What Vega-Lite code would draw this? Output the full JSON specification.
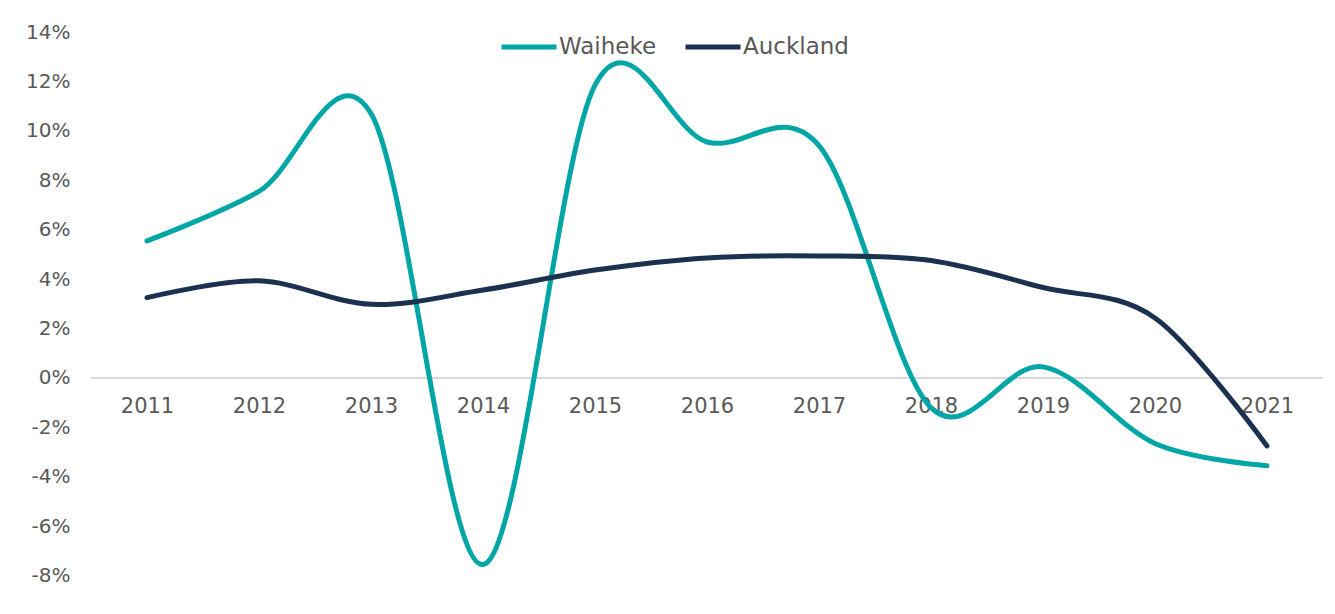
{
  "$schema": "https://vega.github.io/schema/vega-lite/v6.json",
  "width": 1232,
  "height": 582,
  "autosize": "none",
  "padding": {"left": 91, "top": 32, "right": 12, "bottom": 0},
  "background": "white",
  "config": {
    "view": {"stroke": null},
    "font": "DejaVu Sans"
  },
  "data": {
    "values": [
      {"year": "2011", "series": "Waiheke", "value": 0.0555},
      {"year": "2012", "series": "Waiheke", "value": 0.0755},
      {"year": "2013", "series": "Waiheke", "value": 0.107},
      {"year": "2014", "series": "Waiheke", "value": -0.0755},
      {"year": "2015", "series": "Waiheke", "value": 0.1185},
      {"year": "2016", "series": "Waiheke", "value": 0.0955},
      {"year": "2017", "series": "Waiheke", "value": 0.094},
      {"year": "2018", "series": "Waiheke", "value": -0.012},
      {"year": "2019", "series": "Waiheke", "value": 0.0045},
      {"year": "2020", "series": "Waiheke", "value": -0.0265},
      {"year": "2021", "series": "Waiheke", "value": -0.0355},
      {"year": "2011", "series": "Auckland", "value": 0.0325},
      {"year": "2012", "series": "Auckland", "value": 0.0393},
      {"year": "2013", "series": "Auckland", "value": 0.0298},
      {"year": "2014", "series": "Auckland", "value": 0.0356},
      {"year": "2015", "series": "Auckland", "value": 0.0437},
      {"year": "2016", "series": "Auckland", "value": 0.0486},
      {"year": "2017", "series": "Auckland", "value": 0.0494},
      {"year": "2018", "series": "Auckland", "value": 0.0475},
      {"year": "2019", "series": "Auckland", "value": 0.0366},
      {"year": "2020", "series": "Auckland", "value": 0.0243},
      {"year": "2021", "series": "Auckland", "value": -0.0275}
    ]
  },
  "layer": [
    {
      "mark": {"type": "rule", "color": "#d9d9d9", "strokeWidth": 1.5},
      "encoding": {"y": {"datum": 0, "type": "quantitative", "scale": {"domain": [-0.0955, 0.14], "nice": false, "zero": false}}}
    },
    {
      "mark": {"type": "line", "interpolate": "cardinal", "strokeWidth": 5, "strokeCap": "round", "strokeJoin": "round"},
      "encoding": {
        "x": {
          "field": "year",
          "type": "ordinal",
          "scale": {"type": "point", "padding": 0.5},
          "axis": {
            "title": null,
            "orient": "bottom",
            "offset": -236,
            "domain": false,
            "ticks": false,
            "labelPadding": 17,
            "labelFontSize": 21,
            "labelColor": "#595959",
            "labelAngle": 0,
            "labelFont": "DejaVu Sans"
          }
        },
        "y": {
          "field": "value",
          "type": "quantitative",
          "scale": {"domain": [-0.0955, 0.14], "nice": false, "zero": false},
          "axis": {
            "title": null,
            "values": [-0.08, -0.06, -0.04, -0.02, 0, 0.02, 0.04, 0.06, 0.08, 0.1, 0.12, 0.14],
            "format": ".0%",
            "labelExpr": "replace(datum.label, '\u2212', '-')",
            "domain": false,
            "ticks": false,
            "grid": false,
            "labelPadding": 21,
            "labelFontSize": 20,
            "labelColor": "#595959",
            "labelFont": "DejaVu Sans"
          }
        },
        "color": {
          "field": "series",
          "type": "nominal",
          "scale": {"domain": ["Waiheke", "Auckland"], "range": ["#00A6A6", "#1C3150"]},
          "sort": ["Waiheke", "Auckland"],
          "legend": {
            "title": null,
            "orient": "none",
            "direction": "horizontal",
            "legendX": 408,
            "legendY": -15,
            "padding": 0,
            "symbolType": "stroke",
            "symbolSize": 3025,
            "symbolStrokeWidth": 5,
            "labelFontSize": 23,
            "labelColor": "#595959",
            "labelFont": "DejaVu Sans",
            "labelOffset": 0,
            "columnPadding": 18
          }
        }
      }
    }
  ]
}
